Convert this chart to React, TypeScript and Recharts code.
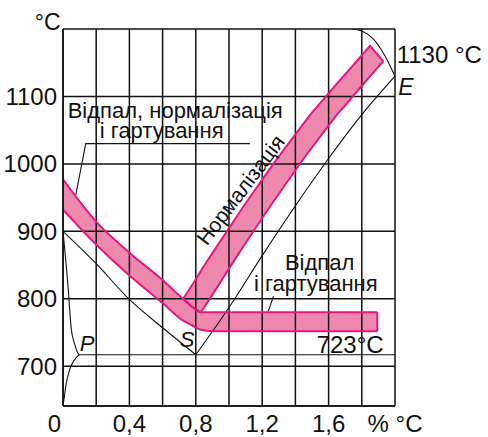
import React from "react";
import {
  ComposedChart,
  Area,
  Line,
  XAxis,
  YAxis,
  CartesianGrid,
  ReferenceDot,
} from "recharts";

const FONT = "'Liberation Sans', Arial, Helvetica, sans-serif";
const BAND_FILL = "#EE88AD";
const BAND_EDGE = "#E3197F";
const INK = "#111";

// axes
const xTicks = [0, 0.2, 0.4, 0.6, 0.8, 1.0, 1.2, 1.4, 1.6, 1.8, 2.0];
const xTickLabels = ["0", "", "0,4", "", "0,8", "", "1,2", "", "1,6", "", "% °C"];
const yTicks = [700, 800, 900, 1000, 1100, 1200];
const yTickLabels = ["700", "800", "900", "1000", "1100", ""];

// annealing / hardening band (left arm + horizontal part)
const leftBandX = [0, 0.201, 0.402, 0.603, 0.722, 0.782, 0.83, 0.903, 1.893];
const leftBandLow = [932, 880, 834, 793, 768, 760, 754, 752, 752];
const leftBandHigh = [977, 914, 868, 827, 800, 787, 780, 780, 780];
const bandEndX = [1.893, 1.893];
const bandEndY = [752, 780];

// normalisation band (rising arm)
const diagBandX = [0.724, 0.782, 0.83, 0.85, 0.89, 1.05, 1.09, 1.25, 1.29, 1.45, 1.49, 1.65, 1.69, 1.85, 1.93];
const diagBandLow = [800, 787, 780, 787, 802, 864, 879, 938, 952, 1008, 1021, 1073, 1084, 1130, 1152];
const diagBandHigh = [800, 822, 841, 849, 864, 923, 938, 994, 1008, 1060, 1073, 1119, 1130, 1175, 1152];

// Fe-C diagram lines
const gsX = [0, 0.2, 0.4, 0.6, 0.8];
const gsY = [900, 852, 799, 757, 717];
const seX = [0.8, 1.0, 1.2, 1.4, 1.6, 1.8, 2.0];
const seY = [717, 787, 864, 938, 1008, 1073, 1130];
const gpX = [0, 0.03, 0.05, 0.07, 0.085, 0.097];
const gpY = [900, 819, 755, 733, 722, 717];
const pqX = [0, 0.008, 0.02, 0.04, 0.065, 0.097];
const pqY = [641, 655, 675, 695, 708, 717];
const pskX = [0.097, 2.0];
const pskY = [717, 717];
const solidusX = [1.74, 1.8, 1.87, 1.94, 2.0];
const solidusY = [1200, 1197, 1185, 1160, 1130];

// leader lines for the captions
const leaderAX = [1.126, 0.137, 0.077];
const leaderAY = [1030, 1030, 954];
const leaderBX = [1.268, 1.236];
const leaderBY = [804, 781];

const notes = [
  { x: -0.015, y: 1199, text: "°C", anchor: "end", size: 23 },
  { x: 2.01, y: 1149, text: "1130 °C", anchor: "start", size: 24 },
  { x: 2.02, y: 1102, text: "E", anchor: "start", size: 23, italic: true },
  { x: 0.028, y: 1068, text: "Відпал, нормалізація", anchor: "start", size: 22 },
  { x: 0.222, y: 1038, text: "і гартування", anchor: "start", size: 22 },
  { x: 1.337, y: 842, text: "Відпал", anchor: "start", size: 22 },
  { x: 1.15, y: 811, text: "і гартування", anchor: "start", size: 22 },
  { x: 1.528, y: 720, text: "723°C", anchor: "start", size: 24 },
  { x: 0.101, y: 722, text: "P", anchor: "start", size: 22, italic: true },
  { x: 0.703, y: 729, text: "S", anchor: "start", size: 22, italic: true },
  { x: 1.105, y: 955, text: "Нормалізація", anchor: "middle", size: 21, rotate: -53 },
];

const pts = (xs: number[], ys: number[]) => xs.map((x, i) => ({ x, y: ys[i] }));
const band = (xs: number[], lo: number[], hi: number[]) =>
  xs.map((x, i) => ({ x, lo: lo[i], hi: hi[i] }));

const leftBand = band(leftBandX, leftBandLow, leftBandHigh);
const diagBand = band(diagBandX, diagBandLow, diagBandHigh);

const blackLines = [
  pts(gsX, gsY),
  pts(seX, seY),
  pts(gpX, gpY),
  pts(pqX, pqY),
  pts(pskX, pskY),
  pts(solidusX, solidusY),
];
const leaders = [pts(leaderAX, leaderAY), pts(leaderBX, leaderBY)];

function XTick(props: any) {
  const { x, y, payload } = props;
  const i = xTicks.indexOf(payload.value);
  const label = i >= 0 ? xTickLabels[i] : "";
  const isZero = payload.value === 0;
  return (
    <text
      x={isZero ? x - 2 : x}
      y={y}
      dy="0.71em"
      textAnchor={isZero ? "end" : "middle"}
      fontSize={24}
      fontFamily={FONT}
      fill={INK}
    >
      {label}
    </text>
  );
}

export default function App() {
  return (
    <div style={{ position: "absolute", left: 0, top: 0 }}>
      <ComposedChart
        width={488}
        height={437}
        margin={{ top: 29, right: 93, bottom: 0, left: 0 }}
      >
        <XAxis
          type="number"
          dataKey="x"
          domain={[0, 2]}
          ticks={xTicks}
          allowDataOverflow
          height={31}
          tickLine={false}
          tickSize={6}
          tickMargin={3}
          axisLine={{ stroke: INK, strokeWidth: 1.5 }}
          tick={<XTick />}
          interval={0}
        />
        <YAxis
          type="number"
          domain={[641, 1200]}
          ticks={yTicks}
          allowDataOverflow
          width={63}
          tickLine={false}
          tickSize={4}
          tickMargin={2}
          axisLine={{ stroke: INK, strokeWidth: 1.5 }}
          tickFormatter={(v: number) => yTickLabels[yTicks.indexOf(v)] ?? ""}
          tick={{ fontSize: 24, fontFamily: FONT, fill: INK }}
          interval={0}
        />

        <Area
          data={diagBand}
          dataKey={(d: any) => [d.lo, d.hi]}
          type="linear"
          fill={BAND_FILL}
          fillOpacity={1}
          stroke="none"
          isAnimationActive={false}
          dot={false}
          activeDot={false}
        />
        <Area
          data={leftBand}
          dataKey={(d: any) => [d.lo, d.hi]}
          type="monotone"
          fill={BAND_FILL}
          fillOpacity={1}
          stroke="none"
          isAnimationActive={false}
          dot={false}
          activeDot={false}
        />

        <CartesianGrid stroke={INK} strokeWidth={1.5} strokeOpacity={1} {...({ zIndex: 200 } as any)} />

        {blackLines.map((d, i) => (
          <Line
            key={`b${i}`}
            data={d}
            dataKey="y"
            type="monotone"
            stroke={INK}
            strokeWidth={1.1}
            dot={false}
            activeDot={false}
            isAnimationActive={false}
          />
        ))}
        {leaders.map((d, i) => (
          <Line
            key={`l${i}`}
            data={d}
            dataKey="y"
            type="linear"
            stroke={INK}
            strokeWidth={1.1}
            dot={false}
            activeDot={false}
            isAnimationActive={false}
          />
        ))}

        <Line data={leftBand} dataKey="hi" type="monotone" stroke={BAND_EDGE} strokeWidth={2} dot={false} activeDot={false} isAnimationActive={false} />
        <Line data={leftBand} dataKey="lo" type="monotone" stroke={BAND_EDGE} strokeWidth={2} dot={false} activeDot={false} isAnimationActive={false} />
        <Line data={pts(bandEndX, bandEndY)} dataKey="y" type="linear" stroke={BAND_EDGE} strokeWidth={2} dot={false} activeDot={false} isAnimationActive={false} />
        <Line data={diagBand} dataKey="hi" type="linear" stroke={BAND_EDGE} strokeWidth={2} dot={false} activeDot={false} isAnimationActive={false} />
        <Line data={diagBand} dataKey="lo" type="linear" stroke={BAND_EDGE} strokeWidth={2} dot={false} activeDot={false} isAnimationActive={false} />

        {notes.map((n, i) => (
          <ReferenceDot
            key={`n${i}`}
            x={n.x}
            y={n.y}
            r={0}
            ifOverflow="visible"
            shape={(p: any) => (
              <text
                x={p.cx}
                y={p.cy}
                textAnchor={n.anchor as any}
                fontSize={n.size}
                fontFamily={FONT}
                fontStyle={n.italic ? "italic" : "normal"}
                fill={INK}
                transform={n.rotate ? `rotate(${n.rotate} ${p.cx} ${p.cy})` : undefined}
              >
                {n.text}
              </text>
            )}
          />
        ))}
      </ComposedChart>
    </div>
  );
}
